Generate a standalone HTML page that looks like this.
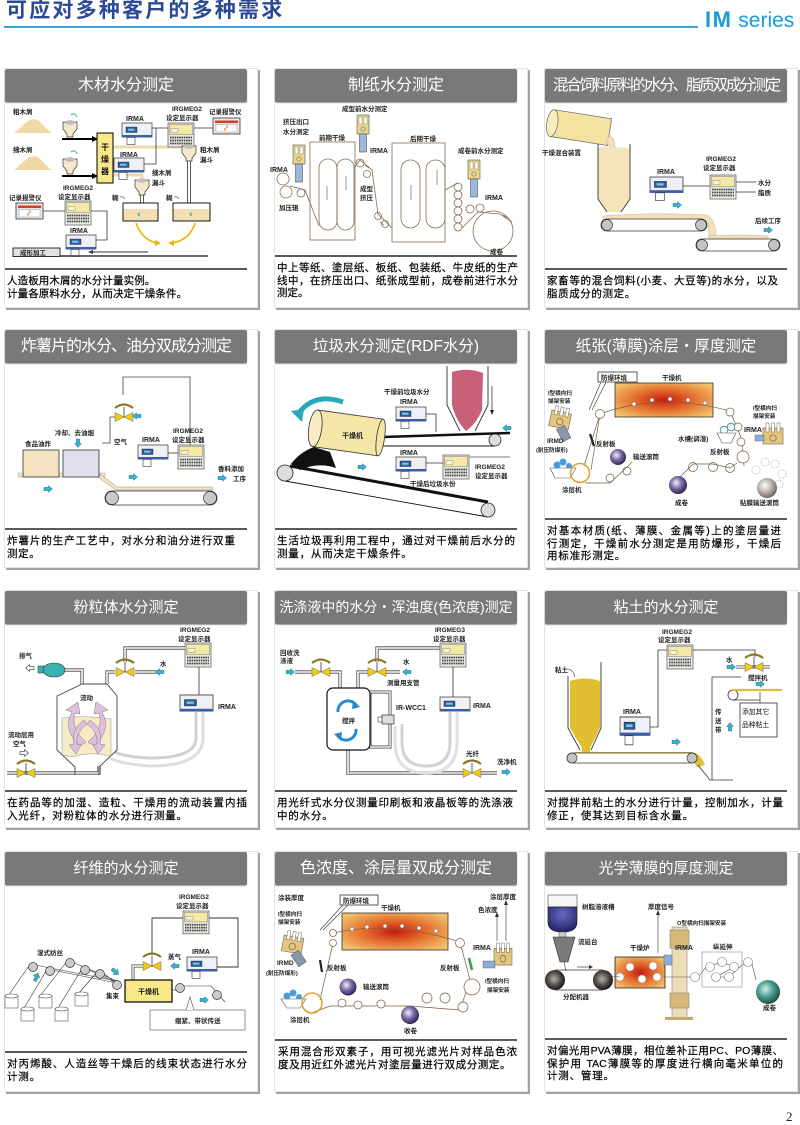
<!DOCTYPE html>
<html><head><meta charset="utf-8">
<style>
*{margin:0;padding:0;box-sizing:border-box}
body{width:800px;height:1123px;background:#fff;position:relative;overflow:hidden;font-family:"Liberation Sans","Noto Sans CJK SC",sans-serif}
.ttl{position:absolute;left:6px;top:0px;font-size:21px;line-height:22px;font-weight:bold;color:#2c4a94;letter-spacing:2.2px;font-family:"Liberation Sans","Noto Sans CJK SC",sans-serif}
.bl{position:absolute;left:4px;top:26px;width:694px;height:2px;background:#3aa3da}
.ims{position:absolute;left:705px;top:9px;color:#1d9ad8;white-space:nowrap;line-height:22px}
.card{position:absolute;background:#fff;border:1px solid #e2e2e2;box-shadow:2px 2px 0 #a2a2a2}
.hd{position:absolute;width:242px;height:33px;background:#797979;border-radius:2px;color:#fff;text-align:center;line-height:33px;font-family:"Liberation Sans","Noto Sans CJK SC",sans-serif;white-space:nowrap;box-shadow:0 1px 1px #999}
.dv{position:absolute;width:242px;height:1.5px;background:#5a5a5a}
.tx{position:absolute;font-size:10.5px;line-height:12.6px;color:#000;-webkit-text-stroke:0.2px #000;font-family:"Liberation Sans","Noto Sans CJK SC",sans-serif;white-space:nowrap}
.tx div{white-space:nowrap}
.tx .j{text-align:justify;text-align-last:justify;white-space:normal;overflow:hidden;height:12.6px}
.pg{position:absolute;left:786px;top:1109px;font:13px "Liberation Serif",serif;color:#222}
svg{position:absolute;left:0;top:0}
.l{font:bold 6.5px "Liberation Sans","Noto Sans CJK SC",sans-serif;fill:#222}
.s{font:bold 5.6px "Liberation Sans","Noto Sans CJK SC",sans-serif;fill:#222}
.m{font:bold 7px "Liberation Sans","Noto Sans CJK SC",sans-serif;fill:#222}
.b{font:bold 8px "Liberation Sans","Noto Sans CJK SC",sans-serif;fill:#111}
</style></head><body>

<div class="ttl">可应对多种客户的多种需求</div>
<div class="bl"></div>
<div class="ims"><span style="font-size:22px;font-weight:bold;letter-spacing:1.5px">IM</span><span style="font-size:21px"> series</span></div>

<!-- cards -->
<div class="card" style="left:4px;top:68px;width:254px;height:240px"></div>
<div class="card" style="left:274px;top:68px;width:254px;height:240px"></div>
<div class="card" style="left:544px;top:68px;width:254px;height:240px"></div>
<div class="card" style="left:4px;top:329px;width:254px;height:239px"></div>
<div class="card" style="left:274px;top:329px;width:254px;height:239px"></div>
<div class="card" style="left:544px;top:329px;width:254px;height:239px"></div>
<div class="card" style="left:4px;top:590px;width:254px;height:238px"></div>
<div class="card" style="left:274px;top:590px;width:254px;height:238px"></div>
<div class="card" style="left:544px;top:590px;width:254px;height:238px"></div>
<div class="card" style="left:4px;top:851px;width:254px;height:241px"></div>
<div class="card" style="left:274px;top:851px;width:254px;height:241px"></div>
<div class="card" style="left:544px;top:851px;width:254px;height:241px"></div>

<!-- headers -->
<div class="hd" style="left:5px;top:69px;font-size:16px">木材水分测定</div>
<div class="hd" style="left:275px;top:69px;font-size:16px">制纸水分测定</div>
<div class="hd" style="left:545px;top:69px;font-size:15.5px;letter-spacing:-2.2px">混合饲料原料的水分、脂质双成分测定</div>
<div class="hd" style="left:5px;top:330px;font-size:16px;letter-spacing:-1px">炸薯片的水分、油分双成分测定</div>
<div class="hd" style="left:275px;top:330px;font-size:15.5px">垃圾水分测定(RDF水分)</div>
<div class="hd" style="left:545px;top:330px;font-size:15.5px">纸张(薄膜)涂层・厚度测定</div>
<div class="hd" style="left:5px;top:591px;font-size:15px">粉粒体水分测定</div>
<div class="hd" style="left:275px;top:591px;font-size:14px">洗涤液中的水分・浑浊度(色浓度)测定</div>
<div class="hd" style="left:545px;top:591px;font-size:15px">粘土的水分测定</div>
<div class="hd" style="left:5px;top:852px;font-size:15px">纤维的水分测定</div>
<div class="hd" style="left:275px;top:852px;font-size:16px">色浓度、涂层量双成分测定</div>
<div class="hd" style="left:545px;top:852px;font-size:15px">光学薄膜的厚度测定</div>

<!-- dividers -->
<div class="dv" style="left:5px;top:268px"></div>
<div class="dv" style="left:275px;top:255px"></div>
<div class="dv" style="left:545px;top:268px"></div>
<div class="dv" style="left:5px;top:528px"></div>
<div class="dv" style="left:275px;top:528px"></div>
<div class="dv" style="left:545px;top:518px"></div>
<div class="dv" style="left:5px;top:790px"></div>
<div class="dv" style="left:275px;top:790px"></div>
<div class="dv" style="left:545px;top:790px"></div>
<div class="dv" style="left:5px;top:1051px"></div>
<div class="dv" style="left:275px;top:1039px"></div>
<div class="dv" style="left:545px;top:1038px"></div>

<!-- texts -->
<div class="tx" style="left:7px;top:275px;letter-spacing:0.1px"><div>人造板用木屑的水分计量实例。</div><div>计量各原料水分，从而决定干燥条件。</div></div>
<div class="tx" style="left:277px;top:262px;width:241px"><div class="j">中上等纸、塗层纸、板纸、包装纸、牛皮纸的生产</div><div class="j">线中，在挤压出口、纸张成型前，成卷前进行水分</div><div>测定。</div></div>
<div class="tx" style="left:547px;top:275px;width:231px"><div class="j">家畜等的混合饲料(小麦、大豆等)的水分，以及</div><div style="letter-spacing:0.6px">脂质成分的测定。</div></div>
<div class="tx" style="left:7px;top:535px;width:228px"><div class="j">炸薯片的生产工艺中，对水分和油分进行双重</div><div style="letter-spacing:0.6px">测定。</div></div>
<div class="tx" style="left:277px;top:535px;width:238px"><div class="j">生活垃圾再利用工程中，通过对干燥前后水分的</div><div style="letter-spacing:0.8px">测量，从而决定干燥条件。</div></div>
<div class="tx" style="left:547px;top:525px;width:234px"><div class="j">对基本材质(纸、薄膜、金属等)上的塗层量进</div><div class="j">行测定，干燥前水分测定是用防爆形，干燥后</div><div style="letter-spacing:0.8px">用标准形测定。</div></div>
<div class="tx" style="left:7px;top:797px;width:240px"><div class="j">在药品等的加湿、造粒、干燥用的流动装置内插</div><div style="letter-spacing:0.8px">入光纤，对粉粒体的水分进行测量。</div></div>
<div class="tx" style="left:277px;top:797px;width:236px"><div class="j">用光纤式水分仪测量印刷板和液晶板等的洗涤液</div><div style="letter-spacing:0.8px">中的水分。</div></div>
<div class="tx" style="left:547px;top:797px;width:236px"><div class="j">对搅拌前粘土的水分进行计量，控制加水，计量</div><div style="letter-spacing:0.8px">修正，使其达到目标含水量。</div></div>
<div class="tx" style="left:7px;top:1058px;width:240px"><div class="j">对丙烯酸、人造丝等干燥后的线束状态进行水分</div><div style="letter-spacing:0.8px">计测。</div></div>
<div class="tx" style="left:278px;top:1046px;width:239px"><div class="j">采用混合形双素子，用可视光滤光片对样品色浓</div><div style="letter-spacing:0.6px">度及用近红外滤光片对塗层量进行双成分测定。</div></div>
<div class="tx" style="left:547px;top:1045px;width:236px"><div class="j">对偏光用PVA薄膜，相位差补正用PC、PO薄膜、</div><div class="j">保护用 TAC薄膜等的厚度进行横向毫米单位的</div><div style="letter-spacing:0.8px">计测、管理。</div></div>

<div class="pg">2</div>

<svg width="800" height="1123" viewBox="0 0 800 1123">
<defs>
<radialGradient id="hot" cx="50%" cy="50%" r="62%"><stop offset="0" stop-color="#c41c12"/><stop offset="0.45" stop-color="#e2682a"/><stop offset="1" stop-color="#f2c06a"/></radialGradient>
<radialGradient id="pur" cx="40%" cy="38%" r="65%"><stop offset="0" stop-color="#f2eeff"/><stop offset="0.5" stop-color="#7868a6"/><stop offset="1" stop-color="#2a2248"/></radialGradient>
<radialGradient id="gry" cx="40%" cy="38%" r="65%"><stop offset="0" stop-color="#fff"/><stop offset="0.55" stop-color="#b4aea6"/><stop offset="1" stop-color="#6a645c"/></radialGradient>
<radialGradient id="tea" cx="40%" cy="38%" r="65%"><stop offset="0" stop-color="#d8f0ea"/><stop offset="0.5" stop-color="#4a9e90"/><stop offset="1" stop-color="#1c4a44"/></radialGradient>
<radialGradient id="dk" cx="45%" cy="45%" r="60%"><stop offset="0" stop-color="#b8b0a8"/><stop offset="0.6" stop-color="#4a4440"/><stop offset="1" stop-color="#111"/></radialGradient>
<radialGradient id="navy" cx="50%" cy="30%" r="70%"><stop offset="0" stop-color="#6a6ac0"/><stop offset="1" stop-color="#22226a"/></radialGradient>
<g id="irmb">
<rect x="0" y="0" width="30" height="14" fill="#eef0f6" stroke="#333" stroke-width="0.7"/>
<rect x="0" y="12" width="30" height="2.4" fill="#3a5ea8"/>
<rect x="4" y="4" width="11" height="5.5" fill="#2c5c9c" stroke="#222" stroke-width="0.4"/>
<rect x="6" y="5.7" width="6.5" height="2" fill="#7cc8ec"/>
</g>
<g id="irma"><use href="#irmb"/><rect x="5" y="14.4" width="8" height="7" fill="#fff" stroke="#333" stroke-width="0.6"/></g>
<g id="disp">
<rect x="0" y="0" width="26" height="24" fill="#ecebe4" stroke="#555" stroke-width="0.7"/>
<rect x="1.5" y="1.5" width="23" height="10" fill="#f4eaa6" stroke="#777" stroke-width="0.5"/>
<rect x="3" y="5.5" width="7" height="4" fill="#f8f4d8" stroke="#777" stroke-width="0.4"/>
<path d="M2 14.5H24M2 17.5H24M2 20.5H24" stroke="#444" stroke-width="1.8" stroke-dasharray="1.6 0.7"/>
</g>
<g id="rec"><rect width="27" height="16" fill="#e8e8e8" stroke="#333" stroke-width="0.8"/><rect x="2" y="2.5" width="23" height="2.5" fill="#d2402a"/><rect x="3" y="6.5" width="21" height="7.5" fill="#fff" stroke="#888" stroke-width="0.4"/><path d="M13 7.5q3 1 0 2.5q-3 1.5 0 2.5" stroke="#e07020" fill="none" stroke-width="0.8"/></g>
<path id="ta" d="M0 -1.6H4.5V-3.4L8.5 0L4.5 3.4V1.6H0Z" fill="#34b4d0" stroke="#1a5a70" stroke-width="0.4"/>
<path id="wa" d="M0 -1.6H4.5V-3.4L8.5 0L4.5 3.4V1.6H0Z" fill="#fff" stroke="#333" stroke-width="0.6"/>
<g id="valve">
<path d="M-9 -4.5L0 0L-9 4.5Z M9 -4.5L0 0L9 4.5Z" fill="#f2cc10" stroke="#666" stroke-width="0.5"/>
<path d="M0 0V-10" stroke="#333" stroke-width="0.8"/>
<path d="M-9 -9Q0 -16 9 -9" fill="none" stroke="#8a7a28" stroke-width="2.2"/>
</g>
<g id="sens">
<rect x="0" y="0" width="12" height="19" fill="#e9d58c" stroke="#555" stroke-width="0.6"/>
<rect x="2" y="2" width="3" height="7" fill="#fff" stroke="#777" stroke-width="0.4"/>
<rect x="7" y="2" width="3" height="7" fill="#fff" stroke="#777" stroke-width="0.4"/>
<circle cx="6" cy="14" r="2.2" fill="none" stroke="#776" stroke-width="0.6"/>
<rect x="2.5" y="19" width="7" height="18" fill="#9cb8dc" stroke="#555" stroke-width="0.6"/>
</g>
<g id="scan">
<rect x="0" y="5" width="20" height="16" fill="#e6c67e" stroke="#665" stroke-width="0.6"/>
<rect x="3" y="0" width="3" height="9" fill="#fff" stroke="#665" stroke-width="0.5"/>
<rect x="8.5" y="0" width="3" height="9" fill="#fff" stroke="#665" stroke-width="0.5"/>
<rect x="14" y="0" width="3" height="9" fill="#fff" stroke="#665" stroke-width="0.5"/>
<circle cx="10" cy="15" r="3.2" fill="none" stroke="#665" stroke-width="0.7"/>
</g>
<g id="hop"><path d="M0 0H14V7L10 12V15H4V12L0 7Z" fill="#f6e8cc" stroke="#333" stroke-width="0.7"/><ellipse cx="7" cy="0.5" rx="5" ry="2.3" fill="#bdbdbd"/></g>
<g id="can"><rect x="0" y="0" width="13" height="12" fill="#fff" stroke="#555" stroke-width="0.6"/><ellipse cx="6.5" cy="0" rx="6.5" ry="2" fill="#fff" stroke="#555" stroke-width="0.6"/></g>
</defs>

<!-- ===== R0C0 木材 ===== -->
<text class="l" x="13" y="114">粗木屑</text>
<text class="l" x="13" y="152">细木屑</text>
<path d="M14 133 C22 127 28 119 34 119 C40 119 44 128 52 133Z" fill="#f1d9a6"/>
<path d="M14 170 C22 164 28 156 34 156 C40 156 44 165 52 170Z" fill="#f1d9a6"/>
<use href="#hop" x="63" y="122"/><use href="#hop" x="63" y="159"/>
<path d="M71 115q4-3 6 2M71 152q4-3 6 2" stroke="#2aa6b8" fill="none" stroke-width="0.9"/>
<path d="M62 139H93M62 176H93" stroke="#000" stroke-width="2"/>
<path d="M92 136L98 139L92 142ZM92 173L98 176L92 179Z" fill="#000"/>
<path d="M113 147H189V150M113 175H142V182" stroke="#f0d8a8" stroke-width="3" fill="none"/>
<rect x="97" y="133" width="16" height="50" fill="#f7e88a" stroke="#000" stroke-width="1"/>
<text class="b" x="101" y="150">干</text><text class="b" x="101" y="162">燥</text><text class="b" x="101" y="174">器</text>
<path d="M152 128H168M192 128H213M152 128H156V164H143" stroke="#333" stroke-width="0.8" fill="none"/>
<text class="m" x="126" y="121">IRMA</text><use href="#irma" x="122" y="123"/>
<text class="m" x="120" y="157">IRMA</text><use href="#irma" x="114" y="158"/>
<text class="l" x="172" y="111">IRGMEG2</text><text class="l" x="166" y="120">设定显示器</text>
<use href="#disp" x="168" y="123"/>
<text class="l" x="209" y="114">记录报警仪</text><use href="#rec" x="213" y="118"/>
<text class="l" x="200" y="152">粗木屑</text><text class="l" x="200" y="162">漏斗</text>
<use href="#hop" x="182" y="146"/>
<path d="M187.5 161V203M190.5 161V203" stroke="#333" stroke-width="0.8"/>
<text class="l" x="152" y="175">细木屑</text><text class="l" x="152" y="185">漏斗</text>
<use href="#hop" x="135" y="180"/>
<path d="M140.5 195V203M143.5 195V203" stroke="#333" stroke-width="0.8"/>
<text class="l" x="112" y="200">糊</text><text class="l" x="166" y="200">糊</text>
<path d="M120 197q3-1 5 2M174 197q3-1 5 2" stroke="#666" fill="none" stroke-width="0.7"/>
<rect x="123" y="203" width="35" height="18" fill="#fff" stroke="#000" stroke-width="0.9"/>
<rect x="123.5" y="209" width="34" height="11.5" fill="#f3e0b0"/>
<rect x="173" y="203" width="37" height="18" fill="#fff" stroke="#000" stroke-width="0.9"/>
<rect x="173.5" y="209" width="36" height="11.5" fill="#f3e0b0"/>
<path d="M140 213q-4 1 0 3M192 213q-4 1 0 3" stroke="#28a0b0" fill="none" stroke-width="1"/>
<path d="M136 223Q142 240 157 243M195 223Q190 240 172 243" stroke="#e8b400" stroke-width="1.6" fill="none"/>
<path d="M155 240L161 243L155 246ZM174 240L168 243L174 246Z" fill="#e8b400"/>
<text class="l" x="9" y="200">记录报警仪</text><use href="#rec" x="16" y="203"/>
<text class="l" x="63" y="190">IRGMEG2</text><text class="l" x="58" y="199">设定显示器</text>
<use href="#disp" x="65" y="201"/>
<path d="M43 211H65M91 211H107V240H93" stroke="#333" stroke-width="0.8" fill="none"/>
<text class="m" x="70" y="233">IRMA</text><use href="#irma" x="66" y="235"/>
<rect x="13" y="248" width="47" height="8.5" fill="#e2e2e2" stroke="#000" stroke-width="0.8"/>
<text class="l" x="20" y="255">成形加工</text>
<path d="M60 256H208" stroke="#333" stroke-width="1.5"/>
<path d="M92 252H148" stroke="#333" stroke-width="0.9"/><path d="M93 250L88 252L93 254Z" fill="#333"/>

<!-- ===== R0C1 制纸 ===== -->
<g stroke="#8a6a50" stroke-width="0.8" fill="none">
<rect x="310" y="142" width="45" height="98"/>
<rect x="392" y="143" width="53" height="99"/>
<rect x="319" y="159" width="18" height="71" rx="9"/>
<rect x="337" y="159" width="17" height="71" rx="8.5"/>
<rect x="401" y="160" width="19" height="68" rx="9.5"/>
<rect x="426" y="160" width="19" height="68" rx="9.5"/>
<circle cx="283" cy="179" r="6"/><circle cx="286" cy="192" r="6"/><circle cx="301" cy="193" r="4"/>
<circle cx="360" cy="163" r="4"/><circle cx="367" cy="174" r="3.5"/><circle cx="378" cy="216" r="3.5"/><circle cx="385" cy="224" r="3.5"/>
<circle cx="458" cy="187" r="4"/><circle cx="458" cy="195" r="4"/><circle cx="458" cy="203" r="4"/><circle cx="458" cy="211" r="4"/><circle cx="458" cy="219" r="4"/><circle cx="458" cy="227" r="4"/>
<circle cx="470" cy="209" r="4"/><circle cx="480" cy="208" r="4"/>
<circle cx="493" cy="231" r="20"/>
<path d="M290 186L305 190L319 226M354 168L360 160L372 170L378 214L392 228M445 190L458 183M462 228L478 212L500 214L512 222"/>
</g>
<path d="M327 200V186M346 190V176M411 200V185M437 185V170M365 165l4 3M380 222l4 3M503 215l4 3" stroke="#555" stroke-width="0.6"/>
<text class="l" x="342" y="111">成型前水分测定</text>
<use href="#sens" x="357" y="115"/>
<text class="m" x="370" y="153">IRMA</text>
<text class="l" x="283" y="124">挤压出口</text><text class="l" x="283" y="134">水分测定</text>
<use href="#sens" x="293" y="145"/>
<text class="m" x="270" y="172">IRMA</text>
<text class="l" x="319" y="140">前期干燥</text>
<text class="l" x="410" y="141">后期干燥</text>
<text class="l" x="458" y="153">成卷前水分测定</text>
<use href="#sens" x="468" y="160"/>
<text class="m" x="485" y="200">IRMA</text>
<text class="l" x="279" y="210">加压辊</text>
<text class="l" x="360" y="191">成型</text><text class="l" x="360" y="200">挤压</text>
<text class="l" x="490" y="254">成卷</text>

<!-- ===== R0C2 饲料 ===== -->
<g transform="rotate(9 580 127)">
<rect x="552" y="114" width="58" height="27" fill="#f5e2a0" stroke="#666" stroke-width="0.7"/>
<ellipse cx="552" cy="127.5" rx="5.5" ry="13.5" fill="#f9ecbc" stroke="#666" stroke-width="0.7"/>
</g>
<path d="M609 136Q616 138 614 146Q619 148 618 152L612 152Q610 146 606 142Z" fill="#f3e0b8" stroke="#999" stroke-width="0.4"/>
<text class="l" x="542" y="155">干燥混合装置</text>
<path d="M598 148Q605 144 612 149Q620 146 630 149V199L621 212H607L598 199Z" fill="#f4e4bc"/>
<path d="M598 144V199L607 212M630 144V199L621 212" stroke="#333" stroke-width="0.9" fill="none"/>
<path d="M603 216Q650 212 707 215Q714 218 716 232L715 239L709 239L708 221L603 220Z" fill="#f3e0b8" stroke="#aaa" stroke-width="0.4"/>
<rect x="601" y="219" width="106" height="12" rx="6" fill="#fff" stroke="#333" stroke-width="0.8"/>
<circle cx="607" cy="225" r="5.5" fill="#c4c4c4" stroke="#333" stroke-width="0.7"/><circle cx="701" cy="225" r="5.5" fill="#c4c4c4" stroke="#333" stroke-width="0.7"/>
<path d="M709 236Q740 234 768 236L768 239L709 239Z" fill="#f3e0b8" stroke="#aaa" stroke-width="0.4"/>
<rect x="696" y="239" width="84" height="12" rx="6" fill="#fff" stroke="#333" stroke-width="0.8"/>
<circle cx="702" cy="245" r="5.5" fill="#c4c4c4" stroke="#333" stroke-width="0.7"/><circle cx="774" cy="245" r="5.5" fill="#c4c4c4" stroke="#333" stroke-width="0.7"/>
<text class="m" x="657" y="174">IRMA</text>
<g transform="translate(650 177) scale(1.1)"><use href="#irma"/></g>
<path d="M683 186H710M736 182H756M736 192H756" stroke="#333" stroke-width="0.8"/>
<use href="#disp" x="710" y="175"/>
<text class="l" x="706" y="161">IRGMEG2</text><text class="l" x="703" y="170">设定显示器</text>
<text class="l" x="758" y="185">水分</text><text class="l" x="758" y="195">脂质</text>
<use href="#ta" x="673" y="205"/><use href="#ta" x="764" y="230"/>
<text class="l" x="755" y="223">后续工序</text>

<!-- ===== R1C0 炸薯片 ===== -->
<path d="M123 395V377H190V445" stroke="#444" stroke-width="0.8" fill="none"/>
<use href="#valve" x="124" y="417"/>
<use href="#ta" transform="translate(141 416) rotate(180)"/>
<path d="M115 417H110V443H102" stroke="#444" stroke-width="0.8" fill="none"/>
<text class="l" x="114" y="444">空气</text>
<text class="l" x="55" y="435">冷却、去油烟</text>
<use href="#ta" transform="translate(78 439) rotate(90)"/>
<text class="l" x="25" y="446">食品油炸</text>
<rect x="18" y="473" width="87" height="4" fill="#f3e3c0" stroke="#999" stroke-width="0.4"/>
<rect x="23" y="450" width="36" height="27" fill="#f3e3c0" stroke="#333" stroke-width="0.8"/>
<rect x="63" y="450" width="36" height="27" fill="#e2dfec" stroke="#333" stroke-width="0.8"/>
<path d="M100 474L117 487H212L213 490H116L99 478Z" fill="#f3e3c0" stroke="#888" stroke-width="0.5"/>
<rect x="105" y="491" width="112" height="14" rx="7" fill="#fff" stroke="#333" stroke-width="0.8"/>
<circle cx="112" cy="498" r="6.5" fill="#c8c8c8" stroke="#333" stroke-width="0.7"/><circle cx="210" cy="498" r="6.5" fill="#c8c8c8" stroke="#333" stroke-width="0.7"/>
<use href="#ta" x="44" y="489"/><use href="#ta" x="129" y="477"/><use href="#ta" x="218" y="478"/>
<text class="m" x="142" y="442">IRMA</text><use href="#irma" x="138" y="445"/>
<path d="M168 453H178" stroke="#333" stroke-width="0.8"/>
<use href="#disp" x="178" y="445"/>
<text class="l" x="173" y="433">IRGMEG2</text><text class="l" x="172" y="442">设定显示器</text>
<text class="l" x="218" y="471">香料添加</text><text class="l" x="233" y="481">工序</text>

<!-- ===== R1C1 垃圾 ===== -->
<path d="M298 414Q314 392 343 402" stroke="#2aa8b8" stroke-width="5" fill="none"/>
<path d="M291 411L302 422L304 409Z" fill="#2aa8b8"/>
<path d="M383 437L510 433" stroke="#111" stroke-width="2.5"/>
<path d="M383 446L495 446" stroke="#111" stroke-width="0.9"/>
<circle cx="495" cy="440" r="6" fill="#ddd" stroke="#222" stroke-width="0.8"/>
<path d="M290 466L488 502" stroke="#111" stroke-width="3"/>
<path d="M285 481L488 517" stroke="#111" stroke-width="0.9"/>
<circle cx="285" cy="473" r="8" fill="#ddd" stroke="#222" stroke-width="0.8"/>
<circle cx="488" cy="510" r="7" fill="#ddd" stroke="#222" stroke-width="0.8"/>
<g transform="rotate(8 345 432)">
<rect x="315" y="414" width="66" height="37" fill="#f5e6a8" stroke="#333" stroke-width="0.8"/>
<ellipse cx="381" cy="432.5" rx="4" ry="18.5" fill="#f5e6a8" stroke="#333" stroke-width="0.8"/>
<ellipse cx="315" cy="432.5" rx="6.5" ry="18.5" fill="#f9ecc4" stroke="#333" stroke-width="0.8"/>
</g>
<text class="m" x="342" y="438">干燥机</text>
<path d="M314 447Q300 452 291 464L300 470Q318 462 336 468L330 452Z" fill="#111"/>
<path d="M452 372Q468 367 483 373L482 410Q476 424 466 431Q456 421 452 405Z" fill="#c8607a"/>
<path d="M447 366V405L460 431M488 366V405L475 431" stroke="#333" stroke-width="0.9" fill="none"/>
<path d="M492 386V411" stroke="#222" stroke-width="0.7"/><path d="M490 410L492 415L494 410Z" fill="#222"/>
<use href="#ta" transform="translate(511 428) rotate(180)"/>
<text class="l" x="384" y="394">干燥前垃圾水分</text><text class="m" x="400" y="404">IRMA</text>
<use href="#irma" x="396" y="407"/>
<path d="M426 414H436V432" stroke="#333" stroke-width="0.8" fill="none"/>
<text class="m" x="400" y="455">IRMA</text><use href="#irma" x="396" y="457"/>
<path d="M426 463H443" stroke="#333" stroke-width="0.8"/>
<use href="#disp" x="443" y="455"/>
<path d="M469 457H510" stroke="#aaa" stroke-width="1.5"/>
<text class="l" x="475" y="469">IRGMEG2</text><text class="l" x="475" y="478">设定显示器</text>
<text class="l" x="410" y="486">干燥后垃圾水份</text>
<use href="#ta" x="358" y="467"/>

<!-- ===== R1C2 纸张涂层 ===== -->
<rect x="598" y="372" width="39" height="10" fill="#fff" stroke="#333" stroke-width="0.8"/>
<text class="l" x="601" y="380">防爆环境</text>
<path d="M601 382L589 410M606 382L592 410" stroke="#333" stroke-width="0.6"/>
<text class="l" x="662" y="380">干燥机</text>
<rect x="615" y="383" width="98" height="34" fill="url(#hot)" stroke="#333" stroke-width="0.8"/>
<path d="M584 466L600 414Q660 392 730 411L742 440L744 466M600 414L591 470" stroke="#7a5a40" stroke-width="0.7" fill="none"/>
<g fill="#fff" stroke="#666" stroke-width="0.5"><circle cx="634" cy="404" r="2"/><circle cx="652" cy="400" r="2"/><circle cx="670" cy="399" r="2"/><circle cx="688" cy="400" r="2"/><circle cx="705" cy="403" r="2"/></g>
<g fill="#fff" stroke="#7a5a40" stroke-width="0.7"><circle cx="600" cy="414" r="4.5"/><circle cx="730" cy="412" r="4"/><circle cx="738" cy="427" r="4"/><circle cx="741" cy="442" r="4"/><circle cx="743" cy="457" r="6"/><circle cx="693" cy="467" r="4.5"/><circle cx="713" cy="467" r="4.5"/><circle cx="730" cy="468" r="4.5"/><circle cx="610" cy="478" r="4"/><circle cx="627" cy="471" r="4"/></g>
<path d="M737 463L730 468L713 464L693 464L680 477M585 483H610L627 467L632 462" stroke="#7a5a40" stroke-width="0.7" fill="none"/>
<text class="s" x="548" y="395">I型横向扫</text><text class="s" x="548" y="403">描架安装</text>
<g transform="translate(553 405) rotate(12)"><use href="#scan"/><rect x="12" y="19" width="9" height="14" fill="#8a96aa" stroke="#555" stroke-width="0.5" transform="rotate(-40 16 26)"/></g>
<text class="l" x="547" y="443">IRMD</text><text class="s" x="536" y="452">(耐压防爆形)</text>
<path d="M590 434L594 446" stroke="#222" stroke-width="2.2"/>
<text class="l" x="596" y="446">反射板</text>
<circle cx="618" cy="457" r="8" fill="url(#pur)"/>
<text class="l" x="633" y="459">输送滚筒</text>
<circle cx="557" cy="465" r="3.5" fill="#4a9ee0"/><circle cx="563" cy="462" r="3.5" fill="#4a9ee0"/><circle cx="569" cy="466" r="3" fill="#4a9ee0"/>
<path d="M550 468H576L570 478H555Z" fill="#fff" stroke="#555" stroke-width="0.6"/>
<circle cx="580" cy="473" r="9.5" fill="none" stroke="#e0a030" stroke-width="1.5"/>
<text class="l" x="562" y="492">涂层机</text>
<text class="l" x="678" y="441">水槽(调湿)</text>
<circle cx="724" cy="430" r="3.8" fill="#fff" stroke="#2a8a9a" stroke-width="0.8"/><circle cx="731" cy="427" r="3.8" fill="#fff" stroke="#2a8a9a" stroke-width="0.8"/>
<path d="M717 433H736L731 443H722Z" fill="#fff" stroke="#555" stroke-width="0.6"/>
<text class="l" x="710" y="454">反射板</text>
<text class="s" x="753" y="410">I型横向扫</text><text class="s" x="753" y="418">描架安装</text>
<text class="m" x="744" y="432">IRMA</text>
<use href="#scan" x="763" y="423"/><rect x="755" y="435" width="9" height="6" fill="#8aaedc" stroke="#555" stroke-width="0.4"/>
<g fill="none" stroke="#999" stroke-width="0.6" stroke-dasharray="1 1"><circle cx="756" cy="470" r="4"/><circle cx="765" cy="462" r="4"/><circle cx="775" cy="464" r="4"/><circle cx="782" cy="474" r="4"/><circle cx="779" cy="484" r="4"/></g>
<circle cx="767" cy="488" r="10" fill="url(#gry)"/>
<text class="l" x="740" y="505">贴膜输送滚筒</text>
<circle cx="678" cy="485" r="9" fill="url(#pur)"/>
<text class="l" x="675" y="505">成卷</text>

<!-- ===== R2C0 粉粒体 ===== -->
<text class="l" x="180" y="632">IRGMEG2</text><text class="l" x="178" y="641">设定显示器</text>
<use href="#disp" x="185" y="643"/>
<path d="M199 667V695" stroke="#333" stroke-width="0.8"/>
<g transform="translate(180 695) scale(1.1 1.15)"><use href="#irmb"/></g>
<text class="m" x="218" y="709">IRMA</text>
<path d="M196 712V738Q196 758 150 758Q122 757 113 751" stroke="#d0d0d0" stroke-width="3" fill="none"/>
<path d="M203 712V738Q203 766 150 766Q120 764 110 758" stroke="#dedede" stroke-width="3" fill="none"/>
<g fill="none"><path d="M185 648H125V662M135 672H160M115 672H107V684M64 670H82V684M7 773H99V766" stroke="#444" stroke-width="3.2"/>
<path d="M185 648H125V662M135 672H160M115 672H107V684M64 670H82V684M7 773H99V766" stroke="#fff" stroke-width="1.6"/></g>
<use href="#valve" x="125" y="672"/>
<text class="l" x="160" y="666">水</text>
<use href="#ta" transform="translate(164 672) rotate(180)"/>
<text class="l" x="19" y="658">排气</text>
<use href="#wa" transform="translate(34 668) rotate(180)"/>
<rect x="38" y="666" width="6" height="7" fill="#3ab0b0" stroke="#333" stroke-width="0.5"/>
<ellipse cx="54" cy="670" rx="11" ry="7" fill="#3ab0b0" stroke="#333" stroke-width="0.6"/>
<path d="M82 684L57 696V750L75 767V775M107 684L117 696V750L99 767V775M82 684H107" stroke="#444" stroke-width="0.9" fill="#fff"/>
<path d="M62 718Q85 715 111 719L111 756Q90 751 72 757L62 755Z" fill="#f5ecc6" stroke="#777" stroke-width="0.4"/>
<g fill="#dcc0dc" stroke="#8a708a" stroke-width="0.5">
<path d="M80 746Q62 730 72 712L66 710L78 702L80 714L75 713Q70 728 86 742Z"/>
<path d="M94 746Q112 730 102 712L108 710L96 702L94 714L99 713Q104 728 88 742Z"/>
<path d="M84 720Q70 730 74 744L69 745L76 754L81 745L77 744Q75 733 87 724Z"/>
<path d="M90 720Q104 730 100 744L105 745L98 754L93 745L97 744Q99 733 87 724Z"/>
</g>
<text class="l" x="80" y="700">流动</text>
<text class="l" x="8" y="737">流动层用</text><text class="l" x="13" y="746">空气</text>
<use href="#wa" x="20" y="753"/>
<use href="#valve" x="26" y="773"/>

<!-- ===== R2C1 洗涤液 ===== -->
<text class="l" x="280" y="655">回收洗</text><text class="l" x="280" y="663">涤液</text>
<use href="#ta" x="286" y="672"/>
<g fill="none"><path d="M295 672H313M330 672H340V690M358 690V672H368M386 672H400M377 662V648H440M348 750V773H463M481 773H497" stroke="#444" stroke-width="3.2"/>
<path d="M295 672H313M330 672H340V690M358 690V672H368M386 672H400M377 662V648H440M348 750V773H463M481 773H497" stroke="#fff" stroke-width="1.6"/></g>
<use href="#valve" x="321" y="672"/>
<use href="#valve" x="377" y="672"/>
<text class="l" x="403" y="664">水</text>
<use href="#ta" transform="translate(411 672) rotate(180)"/>
<text class="l" x="387" y="685">测量用支管</text>
<rect x="370" y="692" width="20" height="55" fill="none" stroke="#444" stroke-width="3"/>
<rect x="370" y="692" width="20" height="55" fill="none" stroke="#fff" stroke-width="1.4"/>
<rect x="327" y="688" width="43" height="62" rx="6" fill="#fff" stroke="#111" stroke-width="1.2"/>
<path d="M338 712A10 10 0 0 1 356 705" stroke="#2a8ad0" stroke-width="3" fill="none"/><path d="M353 700L360 707L352 709Z" fill="#2a8ad0"/>
<path d="M356 729A10 10 0 0 1 338 736" stroke="#2a8ad0" stroke-width="3" fill="none"/><path d="M341 741L334 734L342 732Z" fill="#2a8ad0"/>
<text class="l" x="342" y="723">搅拌</text>
<rect x="382" y="715" width="12" height="9" fill="#ddd" stroke="#333" stroke-width="0.7"/>
<rect x="378" y="717" width="4" height="5" fill="#fff" stroke="#333" stroke-width="0.6"/>
<text class="m" x="396" y="710">IR-WCC1</text>
<text class="l" x="466" y="756">光纤</text>
<use href="#valve" x="472" y="773"/>
<text class="l" x="497" y="764">洗净机</text>
<use href="#ta" x="502" y="772"/>
<text class="l" x="435" y="632">IRGMEG3</text><text class="l" x="433" y="641">设定显示器</text>
<use href="#disp" x="440" y="643"/>
<path d="M453 667V697" stroke="#333" stroke-width="0.8"/>
<use href="#irmb" x="440" y="697"/>
<text class="m" x="473" y="708">IRMA</text>
<path d="M450 712V742Q450 766 426 766Q402 766 402 742V724" stroke="#d2d2d2" stroke-width="3" fill="none"/>
<path d="M457 712V742Q457 773 426 773Q395 773 395 742V726" stroke="#e0e0e0" stroke-width="3" fill="none"/>

<!-- ===== R2C2 粘土 ===== -->
<text class="l" x="662" y="634">IRGMEG2</text><text class="l" x="658" y="642">设定显示器</text>
<use href="#disp" x="667" y="645"/>
<path d="M667 650H658V727H650M693 650H755V657" stroke="#333" stroke-width="0.8" fill="none"/>
<text class="l" x="726" y="662">水</text>
<use href="#ta" x="727" y="667"/>
<path d="M736 667H770" stroke="#444" stroke-width="3"/><path d="M736 667H770" stroke="#fff" stroke-width="1.4"/>
<use href="#valve" x="754" y="667"/>
<text class="l" x="555" y="672">粘土</text>
<path d="M567 669q6 0 8 8" stroke="#333" stroke-width="0.6" fill="none"/>
<path d="M570 681Q585 676 600 681V728L590 748V752H582V748L570 728Z" fill="#e0c030"/>
<path d="M568 676V728L580 750M601 662V728L591 750" stroke="#333" stroke-width="0.9" fill="none"/>
<path d="M575 752H690Q700 752 705 765L697 767L690 756H575Z" fill="#e0c030"/>
<rect x="567" y="753" width="130" height="10" rx="5" fill="#fff" stroke="#333" stroke-width="0.8"/>
<circle cx="572" cy="758" r="5" fill="#c4c4c4" stroke="#333" stroke-width="0.7"/><circle cx="692" cy="758" r="5" fill="#c4c4c4" stroke="#333" stroke-width="0.7"/>
<text class="m" x="623" y="714">IRMA</text>
<g transform="translate(620 717) scale(1 1.3)"><use href="#irma"/></g>
<use href="#ta" x="672" y="742"/>
<path d="M698 765L710 780H733M712 780V677H741" stroke="#333" stroke-width="0.8" fill="none"/>
<circle cx="733" cy="695" r="5" fill="#fff" stroke="#333" stroke-width="0.8"/>
<path d="M733 690H782" stroke="#e0c030" stroke-width="2.2"/><path d="M733 700H760" stroke="#333" stroke-width="0.7"/>
<path d="M760 692V703" stroke="#333" stroke-width="0.7"/>
<text class="l" x="715" y="714">传</text><text class="l" x="715" y="723">送</text><text class="l" x="715" y="732">带</text>
<use href="#ta" transform="translate(730 731) rotate(-90)"/>
<text class="l" x="748" y="680">搅拌机</text>
<use href="#ta" x="756" y="684"/>
<rect x="740" y="703" width="37" height="34" fill="#fff" stroke="#333" stroke-width="0.8"/>
<text x="742" y="714" style="font:6.8px 'Liberation Sans','Noto Sans CJK SC',sans-serif;fill:#111">添加其它</text>
<text x="742" y="727" style="font:6.8px 'Liberation Sans','Noto Sans CJK SC',sans-serif;fill:#111">品种粘土</text>

<!-- ===== R3C0 纤维 ===== -->
<text class="l" x="179" y="899">IRGMEG2</text><text class="l" x="176" y="908">设定显示器</text>
<g transform="translate(183 911) scale(1 0.95)"><use href="#disp"/></g>
<path d="M183 918H152V955M209 918H238V967H217" stroke="#333" stroke-width="0.9" fill="none"/>
<use href="#valve" x="152" y="966"/>
<text class="l" x="168" y="959">蒸气</text>
<use href="#ta" transform="translate(179 966) rotate(180)"/>
<path d="M143 966H133V980" stroke="#444" stroke-width="3" fill="none"/><path d="M143 966H133V980" stroke="#fff" stroke-width="1.4" fill="none"/>
<text class="m" x="192" y="954">IRMA</text>
<use href="#irma" x="187" y="957"/>
<text class="l" x="37" y="955">湿式纺丝</text>
<g stroke="#333" stroke-width="0.6" fill="none">
<path d="M8 996L31 963M24 1008L48 968M40 996L68 960M58 1008L83 967M78 994L98 971"/>
<path d="M35 965L117 981M52 970L117 983M72 962L117 981M87 969L117 983M102 972L117 984M180 986H211L225 1002"/>
<path d="M172 990H180"/>
</g>
<g fill="#ccc" stroke="#333" stroke-width="0.7"><circle cx="33" cy="967" r="4.5"/><circle cx="50" cy="971" r="4.5"/><circle cx="70" cy="963" r="4.5"/><circle cx="85" cy="970" r="4.5"/><circle cx="100" cy="974" r="4.5"/><circle cx="117" cy="985" r="4.5"/><circle cx="180" cy="988" r="4.5"/><circle cx="217" cy="995" r="4.5"/></g>
<use href="#can" x="5" y="996"/><use href="#can" x="21" y="1009"/><use href="#can" x="39" y="996"/><use href="#can" x="55" y="1009"/><use href="#can" x="75" y="994"/>
<use href="#ta" transform="translate(112 969) rotate(40)"/>
<use href="#ta" transform="translate(35 981) rotate(-70)"/>
<use href="#ta" x="200" y="1000"/>
<text class="l" x="106" y="998">集束</text>
<rect x="125" y="980" width="47" height="22" fill="#f7e88a" stroke="#000" stroke-width="1.2"/>
<text class="m" x="138" y="994">干燥机</text>
<rect x="150" y="1010" width="95" height="20" fill="#fff" stroke="#666" stroke-width="0.7"/>
<path d="M186 1010L190 997L194 1010" stroke="#666" stroke-width="0.7" fill="#fff"/>
<text class="l" x="175" y="1023">绷紧、带状传送</text>

<!-- ===== R3C1 色浓度 ===== -->
<text class="l" x="278" y="900">涂装厚度</text>
<text class="s" x="278" y="916">I型横向扫</text><text class="s" x="278" y="924">描架安装</text>
<rect x="340" y="895" width="38" height="10" fill="#fff" stroke="#333" stroke-width="0.8"/>
<text class="l" x="343" y="903">防爆环境</text>
<path d="M343 905L320 930M348 905L323 930" stroke="#333" stroke-width="0.6"/>
<text class="l" x="381" y="910">干燥机</text>
<rect x="342" y="913" width="106" height="37" fill="url(#hot)" stroke="#333" stroke-width="0.8"/>
<path d="M333 933Q390 920 460 942L470 980L460 1010L410 1006L383 1006L330 1006L314 1012M333 943L320 1000" stroke="#7a5a40" stroke-width="0.7" fill="none"/>
<g fill="#fff" stroke="#666" stroke-width="0.5"><circle cx="352" cy="929" r="2"/><circle cx="367" cy="927" r="2"/><circle cx="385" cy="926" r="2"/><circle cx="402" cy="926" r="2"/><circle cx="419" cy="928" r="2"/><circle cx="436" cy="931" r="2"/></g>
<g fill="#fff" stroke="#7a5a40" stroke-width="0.7"><circle cx="333" cy="933" r="3.5"/><circle cx="333" cy="943" r="3.5"/><circle cx="460" cy="943" r="4.5"/><circle cx="472" cy="987" r="8"/><circle cx="463" cy="1007" r="5"/><circle cx="445" cy="998" r="5"/><circle cx="427" cy="998" r="5"/><circle cx="381" cy="1004" r="4"/><circle cx="358" cy="1005" r="4"/><circle cx="342" cy="1003" r="4"/></g>
<g transform="translate(285 930) rotate(10)"><use href="#scan"/><rect x="14" y="19" width="9" height="14" fill="#8a96aa" stroke="#555" stroke-width="0.5" transform="rotate(-45 18 26)"/></g>
<text class="l" x="277" y="965">IRMD</text><text class="s" x="266" y="975">(耐压防爆形)</text>
<path d="M320 960L322 972" stroke="#222" stroke-width="2.2"/>
<text class="l" x="327" y="970">反射板</text>
<circle cx="348" cy="987" r="8.5" fill="url(#pur)"/>
<text class="l" x="363" y="989">输送滚筒</text>
<circle cx="287" cy="996" r="3.5" fill="#4a9ee0"/><circle cx="293" cy="993" r="3.5" fill="#4a9ee0"/><circle cx="299" cy="997" r="3" fill="#4a9ee0"/>
<path d="M281 999H306L300 1008H287Z" fill="#fff" stroke="#555" stroke-width="0.6"/>
<circle cx="312" cy="1003" r="10" fill="none" stroke="#e0a030" stroke-width="1.5"/>
<text class="l" x="290" y="1022">涂层机</text>
<text class="l" x="490" y="899">涂层厚度</text>
<text class="l" x="478" y="912">色浓度</text>
<path d="M497 941V916M506 941V904" stroke="#333" stroke-width="0.6"/>
<path d="M495 917L497 912L499 917ZM504 905L506 900L508 905Z" fill="#333"/>
<text class="m" x="473" y="950">IRMA</text>
<g transform="translate(494 943) scale(0.9 1.05)"><use href="#scan"/></g>
<rect x="483" y="961" width="12" height="7" fill="#8aaedc" stroke="#555" stroke-width="0.4"/>
<text class="l" x="440" y="970">反射板</text>
<path d="M469 958L472 970" stroke="#3aa050" stroke-width="2.6"/>
<text class="s" x="485" y="983">I型横向扫</text><text class="s" x="487" y="992">描架安装</text>
<circle cx="410" cy="1015" r="9" fill="url(#pur)"/>
<text class="l" x="404" y="1033">收卷</text>

<!-- ===== R3C2 光学薄膜 ===== -->
<rect x="548" y="895" width="29" height="12" fill="#f6f6f6" stroke="#666" stroke-width="0.7"/>
<path d="M548 907H577V922Q577 932 562.5 932Q548 932 548 922Z" fill="url(#navy)" stroke="#222" stroke-width="0.7"/>
<rect x="559" y="932" width="7" height="5" fill="#ccc" stroke="#555" stroke-width="0.5"/>
<text class="l" x="582" y="909">树脂溶液槽</text>
<path d="M553 937H575L568 962H560Z" fill="#7a7a7a" stroke="#333" stroke-width="0.6"/>
<path d="M564 962L566 971" stroke="#555" stroke-width="0.7"/>
<text class="l" x="578" y="944">流延台</text>
<path d="M555 970H603M555 990H603" stroke="#333" stroke-width="0.8"/>
<circle cx="555" cy="980" r="10" fill="url(#dk)"/><circle cx="603" cy="980" r="10" fill="url(#dk)"/>
<path d="M577 967H590" stroke="#333" stroke-width="0.7"/><path d="M589 965L593 967L589 969Z" fill="#333"/>
<text class="l" x="563" y="999">分配机器</text>
<text class="l" x="648" y="909">厚度信号</text>
<path d="M658 953V914" stroke="#333" stroke-width="0.6"/><path d="M656 915L658 910L660 915Z" fill="#333"/>
<text class="s" x="677" y="925">O型横向扫描架安装</text>
<rect x="615" y="957" width="50" height="31" fill="url(#hot)" stroke="#222" stroke-width="0.8"/>
<g fill="#fff" stroke="#888" stroke-width="0.5"><circle cx="630" cy="967" r="4"/><circle cx="653" cy="966" r="4"/><circle cx="642" cy="979" r="4"/><circle cx="657" cy="977" r="4"/><circle cx="620" cy="977" r="4"/></g>
<text class="l" x="630" y="950">干燥炉</text>
<rect x="672" y="927" width="15" height="91" fill="#ecdcb8" stroke="#887" stroke-width="0.6"/>
<rect x="670" y="930" width="19" height="18" fill="#d8b878" stroke="#776" stroke-width="0.5"/>
<rect x="670" y="993" width="19" height="15" fill="#d8b878" stroke="#776" stroke-width="0.5"/>
<rect x="665" y="1017" width="28" height="3" fill="#c9a56a"/>
<rect x="664" y="955" width="8" height="10" fill="#8aaedc" stroke="#555" stroke-width="0.4"/>
<text class="m" x="675" y="950">IRMA</text>
<path d="M603 975L620 977M665 977L691 977M699 976L706 967L722 962L734 967L716 977L729 977L742 965L748 962M752 964L756 980" stroke="#555" stroke-width="0.6" fill="none"/>
<rect x="702" y="952" width="40" height="35" fill="none" stroke="#888" stroke-width="0.6"/>
<g fill="#fff" stroke="#777" stroke-width="0.6"><circle cx="695" cy="977" r="4.5"/><circle cx="710" cy="967" r="4.5"/><circle cx="722" cy="962" r="4.5"/><circle cx="734" cy="967" r="4.5"/><circle cx="716" cy="977" r="4.5"/><circle cx="729" cy="977" r="4.5"/><circle cx="748" cy="962" r="4.5"/></g>
<text class="l" x="713" y="949">纵延伸</text>
<circle cx="768" cy="992" r="12" fill="url(#tea)"/>
<text class="l" x="763" y="1010">成卷</text>
</svg>
</body></html>
